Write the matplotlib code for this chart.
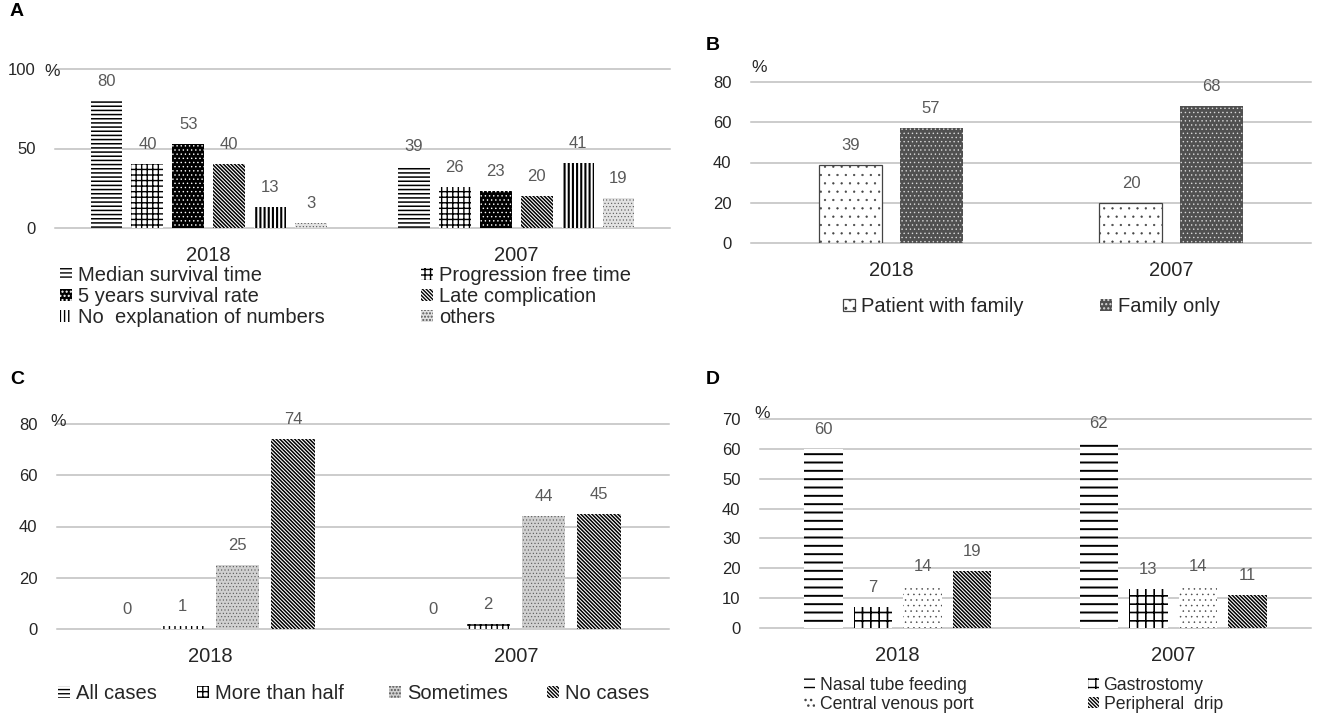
import matplotlib
matplotlib.use("Agg")
import matplotlib.pyplot as plt
from matplotlib.patches import Patch

plt.rcParams["font.family"] = ["Liberation Sans", "DejaVu Sans"]

W, H = 1320, 720
fig = plt.figure(figsize=(W / 100, H / 100), dpi=100)

years = ["2018", "2007"]

# A: what was explained about prognosis
a_labels = ["Median survival time", "Progression free time", "5 years survival rate",
            "Late complication", "No  explanation of numbers", "others"]
a_median = [80, 39]
a_progression = [40, 26]
a_five_year = [53, 23]
a_late = [40, 20]
a_no_numbers = [13, 41]
a_others = [3, 19]

# B: who was told
b_labels = ["Patient with family", "Family only"]
b_with_patient = [39, 20]
b_family_only = [57, 68]

# C: how often
c_labels = ["All cases", "More than half", "Sometimes", "No cases"]
c_all = [0, 0]
c_more_half = [1, 2]
c_sometimes = [25, 44]
c_none = [74, 45]

# D: nutrition route
d_labels = ["Nasal tube feeding", "Gastrostomy", "Central venous port", "Peripheral  drip"]
d_nasal = [60, 62]
d_gastro = [7, 13]
d_cv_port = [14, 14]
d_peripheral = [19, 11]

# fill patterns (face colour, hatch colour, hatch, outline width, hatch width)
HL4 = dict(fc="white", ec="black", hatch="----", lw=0, hlw=1.1)
HL2 = dict(fc="white", ec="black", hatch="--", lw=0, hlw=1.4)
GRID3 = dict(fc="white", ec="black", hatch="+++", lw=0, hlw=1.0)
GRID2 = dict(fc="white", ec="black", hatch="++", lw=0, hlw=1.2)
BLKDOT = dict(fc="black", ec="white", hatch="....", lw=0, hlw=0.5)
DIAG = dict(fc="white", ec="black", hatch="\\" * 9, lw=0, hlw=1.1)
VLINE = dict(fc="white", ec="black", hatch="||||", lw=0, hlw=1.5)
FINEDOT = dict(fc="#e2e2e2", ec="#555555", hatch=".....", lw=0, hlw=0.4)
SOMEDOT = dict(fc="#d0d0d0", ec="#555555", hatch=".....", lw=0, hlw=0.4)
SPARSEDOT = dict(fc="white", ec="#444444", hatch="..", lw=0.9, hlw=0.4)
DARKDOT = dict(fc="#505050", ec="#d8d8d8", hatch="....", lw=0, hlw=0.5)
LIGHTDOT = dict(fc="white", ec="#444444", hatch="...", lw=0, hlw=0.35)

GRID_C = "#bfbfbf"
VAL_C = "#595959"
TXT_C = "#262626"


def make_axes(left, right, top, bottom):
    return fig.add_axes([left / W, 1 - bottom / H, (right - left) / W, (bottom - top) / H])


def style_axes(ax, ymax, step):
    ax.set_xlim(-0.5, 1.5)
    ax.set_ylim(0, ymax)
    ax.set_yticks(list(range(0, ymax + 1, step)))
    ax.set_xticks([0, 1], years)
    for s in ax.spines.values():
        s.set_visible(False)
    ax.tick_params(axis="both", length=0)
    ax.tick_params(axis="y", pad=14, labelsize=12, labelcolor=TXT_C)
    ax.tick_params(axis="x", pad=13, labelsize=14.5, labelcolor=TXT_C)
    ax.yaxis.grid(True, color=GRID_C, lw=1.1)
    ax.set_axisbelow(True)
    for gl in ax.get_ygridlines():
        gl.set_clip_on(False)


def make_patch(st, **kw):
    with plt.rc_context({"hatch.linewidth": st["hlw"]}):
        p = Patch(facecolor=st["fc"], edgecolor=st["ec"], hatch=st["hatch"],
                  linewidth=st["lw"], **kw)
    return p


def grouped(ax, series, styles, width, pitch):
    n = len(series)
    for i, (vals, st) in enumerate(zip(series, styles)):
        off = (i - (n - 1) / 2) * pitch
        xs = [k + off for k in range(len(vals))]
        with plt.rc_context({"hatch.linewidth": st["hlw"]}):
            bars = ax.bar(xs, vals, width, facecolor=st["fc"], edgecolor=st["ec"],
                          hatch=st["hatch"], linewidth=st["lw"], zorder=2)
        for b, v in zip(bars, vals):
            ax.annotate(f"{v}", (b.get_x() + b.get_width() / 2, v), xytext=(0, 14),
                        textcoords="offset points", ha="center", va="center",
                        fontsize=12, color=VAL_C, annotation_clip=False)


def legend_column(entries, x, y, size, hl=0.6, hp=0.28, spacing=0.1):
    handles = [make_patch(st) for _, st in entries]
    labels = [lab for lab, _ in entries]
    lg = fig.legend(handles, labels, loc="upper left", bbox_to_anchor=(x / W, 1 - y / H),
                    frameon=False, borderpad=0, borderaxespad=0, handlelength=hl,
                    handleheight=hl, handletextpad=hp, labelspacing=spacing,
                    fontsize=size, labelcolor=TXT_C)
    return lg


def panel_letter(x, y, s):
    fig.text(x / W, 1 - y / H, s, fontsize=14, fontweight="bold", ha="left", va="center",
             color="black")


def pct(x, y):
    fig.text(x / W, 1 - y / H, "%", fontsize=12.5, ha="center", va="center", color=TXT_C)


# ---- A ----
axA = make_axes(55, 670, 69, 228)
style_axes(axA, 100, 50)
a_styles = [HL4, GRID3, BLKDOT, DIAG, VLINE, FINEDOT]
grouped(axA, [a_median, a_progression, a_five_year, a_late, a_no_numbers, a_others],
        a_styles, 0.104, 0.133)
panel_letter(10, 12, "A")
pct(52, 71)
legend_column([(a_labels[0], a_styles[0]), (a_labels[2], a_styles[2]), (a_labels[4], a_styles[4])],
              60, 266, 14.5)
legend_column([(a_labels[1], a_styles[1]), (a_labels[3], a_styles[3]), (a_labels[5], a_styles[5])],
              421, 266, 14.5)

# ---- B ----
axB = make_axes(751, 1311, 82, 243)
style_axes(axB, 80, 20)
b_styles = [SPARSEDOT, DARKDOT]
grouped(axB, [b_with_patient, b_family_only], b_styles, 0.225, 0.286)
panel_letter(706, 45, "B")
pct(759, 68)
legend_column([(b_labels[0], b_styles[0])], 843, 297, 14.5)
legend_column([(b_labels[1], b_styles[1])], 1100, 297, 14.5)

# ---- C ----
axC = make_axes(57, 669, 424, 629)
style_axes(axC, 80, 20)
c_styles = [HL4, GRID3, SOMEDOT, DIAG]
grouped(axC, [c_all, c_more_half, c_sometimes, c_none], c_styles, 0.142, 0.181)
panel_letter(10, 380, "C")
pct(58, 422)
for lab, st, x in zip(c_labels, c_styles, [58, 197, 389, 547]):
    legend_column([(lab, st)], x, 684, 14.5)

# ---- D ----
axD = make_axes(760, 1311, 419, 628)
style_axes(axD, 70, 10)
d_styles = [HL2, GRID2, LIGHTDOT, DIAG]
grouped(axD, [d_nasal, d_gastro, d_cv_port, d_peripheral], d_styles, 0.14, 0.18)
panel_letter(706, 380, "D")
pct(762, 413)
legend_column([(d_labels[0], d_styles[0]), (d_labels[2], d_styles[2])], 804, 677, 12.7)
legend_column([(d_labels[1], d_styles[1]), (d_labels[3], d_styles[3])], 1088, 677, 12.7)

fig.savefig("out.png", dpi=100, facecolor="white")
